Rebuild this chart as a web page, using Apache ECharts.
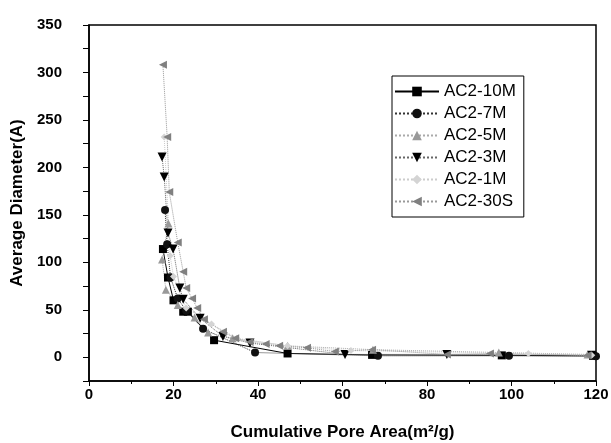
<!DOCTYPE html>
<html><head><meta charset="utf-8">
<script src="https://cdn.jsdelivr.net/npm/echarts@6/dist/echarts.min.js"></script>
<style>html,body{margin:0;padding:0;background:#fff}#c{width:611px;height:443px}</style>
</head><body><div id="c"></div>
<script>
const seriesNames = ['AC2-10M','AC2-7M','AC2-5M','AC2-3M','AC2-1M','AC2-30S'];
const ac2_10M = [[17.5,114],[18.7,84],[20,60],[22.3,48],[23.4,48],[29.6,18],[47,4],[67,2.5],[97.7,2],[119.3,1.5]];
const ac2_7M = [[18,155],[18.5,119],[19.3,84],[21,62],[23,49],[27,30],[39.3,5],[68.4,1.5],[99.4,1.5],[120,1]];
const ac2_5M = [[18.8,141],[17.3,103],[18.2,71],[21,55],[25,42],[28.2,26],[34,20],[47,12],[67.2,8],[97,5],[118,3]];
const ac2_3M = [[17.3,211],[17.8,190],[18.7,131],[19.9,114],[21.5,73],[22.3,61],[26.3,41],[31.7,22],[38.1,15],[60.6,3],[84.7,3],[119,2]];
const ac2_1M = [[17.8,232],[19.2,107],[20,85],[23,52],[29,35],[35,20],[47,12],[62,7],[104,4],[119,2]];
const ac2_30S = [[17.5,308],[18.5,232],[19,174],[21,121],[22.3,90],[23,73],[24.4,62],[25.6,52],[27.2,40],[31.7,27],[34.6,20],[38,16],[41.8,14],[45,12],[51.6,10],[58.2,6],[67,8],[84.7,3],[94.9,4],[118,2]];
const xTicks = [0,20,40,60,80,100,120];
const yTicks = [0,50,100,150,200,250,300,350];

const chart = echarts.init(document.getElementById('c'));
const font = 'Arial, "Liberation Sans", sans-serif';
function mk(name, data, color, lineColor, lineType, symbol, size, rot, lw) {
  return {
    name, type: 'line', data, symbol, symbolSize: size, symbolRotate: rot || 0,
    itemStyle: {color},
    lineStyle: {color: lineColor, type: lineType, width: lw || 1},
    z: 3
  };
}
chart.setOption({
  animation: false,
  backgroundColor: '#fff',
  grid: {left: 89, right: 15, top: 25, bottom: 62, outerBoundsMode: 'none', containLabel: false,
    show: true, borderColor: '#000', borderWidth: 1.5},
  legend: {
    orient: 'vertical', left: 392, top: 76,
    itemWidth: 44, itemHeight: 12, itemGap: 5,
    padding: [7, 8, 7, 2],
    borderColor: '#000', borderWidth: 1,
    textStyle: {fontFamily: font, fontSize: 17, color: '#000'},
    data: seriesNames
  },
  xAxis: {
    type: 'value', min: 0, max: 120, interval: 20,
    name: 'Cumulative Pore Area(m²/g)', nameLocation: 'middle', nameGap: 43,
    nameTextStyle: {fontFamily: font, fontSize: 17, fontWeight: 'bold', color: '#000'},
    axisLine: {onZero: false, lineStyle: {color: '#000', width: 1.5}},
    axisTick: {length: 5, lineStyle: {color: '#000'}},
    minorTick: {show: true, splitNumber: 2, length: 3, lineStyle: {color: '#000'}},
    splitLine: {show: false},
    axisLabel: {fontFamily: font, fontSize: 15, fontWeight: 'bold', color: '#000', margin: 6,
      formatter: v => xTicks.includes(v) ? String(v) : ''}
  },
  yAxis: {
    type: 'value', min: -25, max: 350, interval: 25,
    name: 'Average Diameter(A)', nameLocation: 'middle', nameGap: 60,
    nameTextStyle: {fontFamily: font, fontSize: 17, fontWeight: 'bold', color: '#000'},
    axisLine: {onZero: false, lineStyle: {color: '#000', width: 1.5}},
    axisTick: {length: 6, lineStyle: {color: '#000'}},
    splitLine: {show: false},
    axisLabel: {fontFamily: font, fontSize: 15, fontWeight: 'bold', color: '#000', margin: 27,
      formatter: v => yTicks.includes(v) ? String(v) : ''}
  },
  series: [
    mk(seriesNames[0], ac2_10M, '#000', '#000', 'solid', 'rect', 8, 0, 1),
    mk(seriesNames[1], ac2_7M, '#111', '#333', 'dotted', 'circle', 8, 0, 1),
    mk(seriesNames[2], ac2_5M, '#999', '#aaa', 'dotted', 'triangle', 8, 0, 1),
    mk(seriesNames[3], ac2_3M, '#000', '#666', 'dotted', 'triangle', 9, 180, 1),
    mk(seriesNames[4], ac2_1M, '#d4d4d4', '#ccc', 'dotted', 'diamond', 7, 0, 1),
    mk(seriesNames[5], ac2_30S, '#808080', '#999', 'dotted', 'triangle', 8, 90, 1)
  ]
});
</script></body></html>
